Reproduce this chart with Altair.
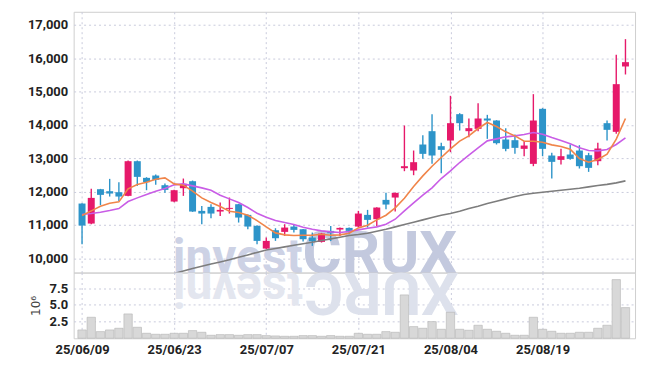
import altair as alt
import pandas as pd

# ---------------- data ----------------
dates = ["25/06/09", "25/06/10", "25/06/11", "25/06/12", "25/06/13", "25/06/16", "25/06/17", "25/06/18",
         "25/06/19", "25/06/20", "25/06/23", "25/06/24", "25/06/25", "25/06/26", "25/06/27", "25/06/30",
         "25/07/01", "25/07/02", "25/07/03", "25/07/04", "25/07/07", "25/07/08", "25/07/09", "25/07/10",
         "25/07/11", "25/07/14", "25/07/15", "25/07/16", "25/07/17", "25/07/18", "25/07/21", "25/07/22",
         "25/07/23", "25/07/24", "25/07/25", "25/07/28", "25/07/29", "25/07/30", "25/07/31", "25/08/01",
         "25/08/04", "25/08/05", "25/08/06", "25/08/07", "25/08/08", "25/08/11", "25/08/12", "25/08/13",
         "25/08/14", "25/08/18", "25/08/19", "25/08/20", "25/08/21", "25/08/22", "25/08/25", "25/08/26",
         "25/08/27", "25/08/28", "25/08/29", "25/09/01"]

opens = [11640, 11040, 12070, 12010, 11980, 11870, 12910, 12410, 12480, 12190,
         11700, 12100, 12310, 11420, 11540, 11400, 11480, 11620, 11300, 10970,
         10290, 10840, 10790, 10950, 10870, 10620, 10490, 10820, 10860, 10910,
         10950, 11300, 11170, 11750, 11820, 12700, 12630, 13410, 13810, 13360,
         13530, 14320, 13810, 13880, 14190, 14130, 13560, 13540, 13280, 12830,
         14480, 13080, 12950, 13110, 13230, 13090, 12910, 14050, 13790, 15750]
highs = [11650, 12080, 12080, 12380, 12280, 12930, 12930, 12430, 12510, 12240,
         12050, 12390, 12330, 11570, 11620, 11670, 11820, 11630, 11310, 10990,
         10620, 10900, 11020, 11020, 10880, 10770, 10760, 10970, 10920, 10920,
         11420, 11450, 11530, 11960, 11970, 13980, 13230, 13690, 14320, 13460,
         14870, 14350, 14190, 14650, 14300, 14140, 13900, 13710, 13510, 14920,
         14500, 13160, 13280, 13410, 13390, 13160, 13460, 14130, 16100, 16570]
lows = [10420, 11020, 11590, 11850, 11720, 11860, 12170, 12040, 12200, 11960,
        11680, 11870, 11390, 11020, 11200, 11270, 11340, 11070, 10870, 10420,
        10280, 10520, 10670, 10770, 10500, 10370, 10470, 10520, 10670, 10720,
        10930, 10920, 10970, 11470, 11400, 12610, 12490, 12980, 12830, 12550,
        13180, 13830, 13630, 13810, 13580, 13410, 13210, 13130, 13060, 12760,
        13060, 12390, 12810, 12950, 12690, 12590, 12790, 13530, 13730, 15510]
closes = [10980, 11810, 11900, 11940, 11850, 12910, 12440, 12280, 12350, 12050,
          12040, 12230, 11400, 11340, 11340, 11450, 11510, 11220, 10950, 10520,
          10520, 10600, 10920, 10850, 10570, 10510, 10740, 10750, 10910, 10820,
          11340, 11150, 11520, 11610, 11960, 12760, 12880, 13130, 13080, 13250,
          14050, 14050, 13900, 14190, 14130, 13450, 13280, 13310, 13380, 14130,
          13280, 12890, 13060, 12980, 12760, 12710, 13290, 13850, 15220, 15880]

# volume, millions of shares
volumes = [1.25, 3.15, 1.0, 1.25, 1.5, 3.65, 1.65, 0.75, 0.6, 0.6,
           0.75, 0.75, 1.15, 0.9, 0.45, 0.55, 0.55, 0.45, 0.55, 0.55,
           0.4, 0.35, 0.3, 0.3, 0.4, 0.4, 0.3, 0.4, 0.3, 0.3,
           0.75, 0.6, 0.6, 1.0, 0.9, 6.5, 1.75, 1.5, 2.5, 1.35,
           3.9, 1.35, 1.2, 1.95, 1.35, 1.05, 0.75, 0.45, 0.45, 3.15,
           1.35, 1.05, 0.75, 0.75, 0.9, 0.9, 1.5, 1.95, 8.8, 4.6]

ma5 = [11280, 11420, 11560, 11650, 11690, 12080, 12210, 12280, 12370, 12410,
       12230, 12190, 12010, 11810, 11670, 11550, 11410, 11370, 11290, 11130,
       10940, 10760, 10700, 10680, 10690, 10690, 10720, 10690, 10700, 10750,
       10910, 10990, 11150, 11290, 11510, 11800, 12150, 12470, 12760, 13020,
       13280, 13510, 13670, 13890, 14070, 13950, 13790, 13670, 13510, 13510,
       13480, 13400, 13350, 13270, 12990, 12880, 12960, 13120, 13570, 14190]
ma20 = [11310, 11340, 11380, 11430, 11490, 11700, 11810, 11910, 12010, 12090,
        12200, 12230, 12170, 12110, 12040, 11890, 11780, 11670, 11520, 11350,
        11230, 11130, 11070, 11010, 10930, 10870, 10820, 10790, 10770, 10800,
        10850, 10900, 10940, 11020, 11170, 11420, 11660, 11890, 12110, 12390,
        12620, 12870, 13090, 13310, 13520, 13580, 13640, 13670, 13710, 13770,
        13720, 13620, 13530, 13430, 13310, 13230, 13220, 13260, 13410, 13610]
ma60_start = 10
ma60 = [9540, 9620, 9690, 9760, 9830, 9890, 9955, 10030, 10100, 10175,
        10245, 10290, 10340, 10390, 10435, 10480, 10530, 10580, 10630, 10680,
        10710, 10750, 10810, 10870, 10940, 11010, 11080, 11150, 11220, 11290,
        11340, 11410, 11490, 11560, 11640, 11710, 11780, 11850, 11910, 11950,
        11980, 12010, 12040, 12070, 12100, 12140, 12180, 12215, 12260, 12320]

price_ticks = [10000, 11000, 12000, 13000, 14000, 15000, 16000, 17000]
vol_ticks = [2.5, 5.0, 7.5]
date_ticks = [0, 10, 20, 30, 40, 50]

# ---------------- tables ----------------
n = len(dates)
df = pd.DataFrame({
    "i": list(range(n)), "date": dates, "open": opens, "high": highs,
    "low": lows, "close": closes, "vol": volumes, "ma5": ma5, "ma20": ma20,
})
df["dir"] = ["up" if c >= o else "down" for o, c in zip(opens, closes)]
df60 = pd.DataFrame({"i": list(range(ma60_start, ma60_start + len(ma60))), "ma60": ma60})

UP, DOWN = "#e6196a", "#2d94c9"
GRID = "#c9cbdc"
FONT = "Roboto"
X_DOMAIN = [-0.37, 59.5]
W = 564

label_expr = "[" + ",".join("'%s'" % d for d in dates) + "][datum.value]"

xs = alt.Scale(domain=X_DOMAIN, nice=False, zero=False)
x_price = alt.X("i:Q", scale=xs, axis=alt.Axis(values=date_ticks, labels=False, ticks=False, tickSize=0,
                domain=False, grid=True, title=None, minExtent=0, maxExtent=0))
ys = alt.Scale(domain=[9570, 17390], nice=False, zero=False)
y_axis = alt.Axis(values=price_ticks, format=",d", title=None, ticks=False, tickSize=0,
                  domain=False, grid=True, labelPadding=6, labelOverlap=False)
color = alt.Color("dir:N", scale=alt.Scale(domain=["up", "down"], range=[UP, DOWN]), legend=None)

base = alt.Chart(df)
one = pd.DataFrame({"k": [0]})

wm_invest = alt.Chart(one).mark_text(text="invest", font="Roboto", fontWeight="bold",
                                     fontSize=48, align="right", baseline="alphabetic",
                                     color="#cdd2e5").encode(x=alt.value(230), y=alt.value(262))
wm_crux = alt.Chart(one).mark_text(text="CRUX", font="Roboto", fontWeight="bold",
                                   fontSize=60, align="left", baseline="alphabetic",
                                   color="#c3c9de").encode(x=alt.value(230), y=alt.value(262))

wicks = base.mark_rule(strokeWidth=1.4).encode(
    x=x_price, y=alt.Y("low:Q", scale=ys, axis=y_axis), y2="high:Q", color=color)
bodies = base.mark_bar(size=7).encode(
    x=x_price, y=alt.Y("open:Q", scale=ys, axis=y_axis), y2="close:Q", color=color)
line60 = alt.Chart(df60).mark_line(color="#7d7d7d", strokeWidth=1.6, clip=True).encode(
    x=x_price, y=alt.Y("ma60:Q", scale=ys, axis=y_axis))
line20 = base.mark_line(color="#c95de6", strokeWidth=1.6, clip=True).encode(
    x=x_price, y=alt.Y("ma20:Q", scale=ys, axis=y_axis))
line5 = base.mark_line(color="#f0854a", strokeWidth=1.6, clip=True).encode(
    x=x_price, y=alt.Y("ma5:Q", scale=ys, axis=y_axis))

price = alt.layer(wm_invest, wm_crux, wicks, bodies, line60, line20, line5).properties(width=W, height=262)

x_vol = alt.X("i:Q", scale=xs, axis=alt.Axis(values=date_ticks, labelExpr=label_expr, ticks=False,
              tickSize=0, domain=False, grid=True, title=None, labelPadding=5))
wm_invest_r = alt.Chart(one).mark_text(text="tsevni", font="Roboto", fontWeight="bold",
                                       fontSize=48, align="left", baseline="alphabetic", angle=180,
                                       color="#e3e6ef").encode(x=alt.value(230), y=alt.value(0))
wm_crux_r = alt.Chart(one).mark_text(text="XURC", font="Roboto", fontWeight="bold",
                                     fontSize=60, align="left", baseline="alphabetic", angle=180,
                                     color="#dde1ec").encode(x=alt.value(387), y=alt.value(0))
vbars = base.mark_bar(size=8.4, color="#d8d8d8", stroke="#b3b3b3", strokeWidth=0.6).encode(
    x=x_vol,
    y=alt.Y("vol:Q", scale=alt.Scale(domain=[0, 9.85], nice=False),
            axis=alt.Axis(values=vol_ticks, format=".1f", title="10⁶", ticks=False, tickSize=0,
                          domain=False, grid=True, labelPadding=6, titlePadding=7,
                          labelOverlap=False)))
volume = alt.layer(wm_invest_r, wm_crux_r, vbars).properties(width=W, height=66)

chart = alt.vconcat(price, volume, spacing=0, bounds="flush").properties(
    padding={"left": 27, "top": 10, "right": 9, "bottom": 5}
).configure_view(stroke="#cfcfcf", strokeWidth=1).configure_axis(
    labelFont=FONT, labelFontSize=13, labelFontWeight="bold", labelColor="#222222",
    gridColor=GRID, gridDash=[2, 3], gridWidth=1,
    titleFont="DejaVu Sans", titleFontSize=12, titleFontWeight="normal", titleColor="#444444",
)

chart.save("out.html", embed_options={"renderer": "svg", "actions": False})
